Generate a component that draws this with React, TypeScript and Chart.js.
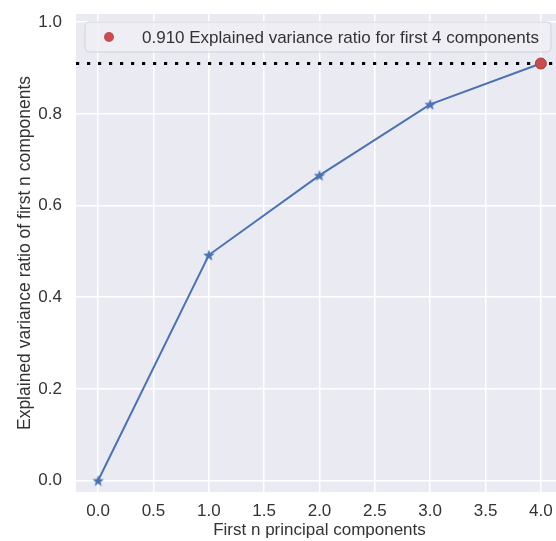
import React, { useEffect, useRef } from "react";
import { Chart, registerables } from "chart.js";

Chart.register(...registerables);

// ---- data ----
const COMPONENTS = [0, 1, 2, 3, 4];
const CUM_RATIO = [0.0, 0.492, 0.666, 0.821, 0.91];
const HIGHLIGHT_N = 4;
const HIGHLIGHT_VALUE = 0.91;
const LEGEND_LABEL = "0.910 Explained variance ratio for first 4 components";
const X_TICKS = [0.0, 0.5, 1.0, 1.5, 2.0, 2.5, 3.0, 3.5, 4.0];
const Y_TICKS = [0.0, 0.2, 0.4, 0.6, 0.8, 1.0];
const X_MIN = -0.2;
const X_MAX = 4.2;
const Y_MIN = -0.025;
const Y_MAX = 1.018;
const X_TITLE = "First n principal components";
const Y_TITLE = "Explained variance ratio of first n components";

// ---- style ----
const FONT = "'Liberation Sans', Arial, sans-serif";
const TEXT = "#333333";
const BG = "#EAEAF2";
const BLUE = "#4C72B0";
const RED = "#C44E52";

function makeStar(size: number, color: string) {
  const c = document.createElement("canvas");
  c.width = size;
  c.height = size;
  const ctx = c.getContext("2d")!;
  const cx = size / 2;
  const cy = size / 2;
  const R = size / 2;
  const r = R * 0.42;
  ctx.beginPath();
  for (let i = 0; i < 10; i++) {
    const ang = -Math.PI / 2 + (i * Math.PI) / 5;
    const rad = i % 2 === 0 ? R : r;
    const px = cx + rad * Math.cos(ang);
    const py = cy + rad * Math.sin(ang) + size * 0.05;
    if (i === 0) ctx.moveTo(px, py);
    else ctx.lineTo(px, py);
  }
  ctx.closePath();
  ctx.fillStyle = color;
  ctx.fill();
  return c;
}

const bgPlugin = {
  id: "bgPlugin",
  beforeDraw(chart: any) {
    const { ctx, chartArea } = chart;
    ctx.save();
    ctx.fillStyle = BG;
    ctx.fillRect(chartArea.left, chartArea.top, chartArea.right - chartArea.left, chartArea.bottom - chartArea.top);
    ctx.restore();
  },
};

const legendPlugin = {
  id: "insideLegend",
  afterDatasetsDraw(chart: any) {
    const { ctx, chartArea } = chart;
    const x = chartArea.left + 9;
    const y = chartArea.top + 8;
    const w = 466;
    const h = 30;
    ctx.save();
    ctx.beginPath();
    const rr = 4;
    ctx.moveTo(x + rr, y);
    ctx.lineTo(x + w - rr, y);
    ctx.quadraticCurveTo(x + w, y, x + w, y + rr);
    ctx.lineTo(x + w, y + h - rr);
    ctx.quadraticCurveTo(x + w, y + h, x + w - rr, y + h);
    ctx.lineTo(x + rr, y + h);
    ctx.quadraticCurveTo(x, y + h, x, y + h - rr);
    ctx.lineTo(x, y + rr);
    ctx.quadraticCurveTo(x, y, x + rr, y);
    ctx.closePath();
    ctx.fillStyle = "rgba(238,238,245,0.85)";
    ctx.fill();
    ctx.strokeStyle = "#D2D2D8";
    ctx.lineWidth = 1;
    ctx.stroke();
    ctx.beginPath();
    ctx.arc(x + 24, y + h / 2, 5, 0, Math.PI * 2);
    ctx.fillStyle = RED;
    ctx.fill();
    ctx.fillStyle = TEXT;
    ctx.font = `17px ${FONT}`;
    ctx.textBaseline = "middle";
    ctx.textAlign = "left";
    ctx.fillText(LEGEND_LABEL, x + 57, y + h / 2 + 1);
    ctx.restore();
  },
};

export default function App() {
  const ref = useRef<HTMLCanvasElement | null>(null);
  useEffect(() => {
    if (!ref.current) return;
    const star = makeStar(12, BLUE);
    const chart = new Chart(ref.current, {
      type: "scatter",
      data: {
        datasets: [
          {
            label: "cumulative",
            data: COMPONENTS.map((n, i) => ({ x: n, y: CUM_RATIO[i] })),
            showLine: true,
            borderColor: BLUE,
            backgroundColor: BLUE,
            borderWidth: 2,
            pointStyle: star as any,
            pointRadius: 6,
            order: 3,
          },
          {
            label: "threshold",
            data: [
              { x: X_MIN, y: HIGHLIGHT_VALUE },
              { x: X_MAX, y: HIGHLIGHT_VALUE },
            ],
            showLine: true,
            borderColor: "#000000",
            borderWidth: 3.2,
            borderDash: [3.2, 7.8],
            borderCapStyle: "butt",
            pointRadius: 0,
            order: 2,
          },
          {
            label: LEGEND_LABEL,
            data: [{ x: HIGHLIGHT_N, y: HIGHLIGHT_VALUE }],
            backgroundColor: RED,
            borderColor: "#B23A3F",
            borderWidth: 1,
            pointRadius: 5.5,
            order: 1,
          },
        ],
      },
      options: {
        animation: false,
        responsive: false,
        devicePixelRatio: 1,
        layout: { padding: { top: 14, right: 37, left: 0, bottom: 0 } },
        plugins: {
          legend: { display: false },
          tooltip: { enabled: false },
        },
        scales: {
          x: {
            type: "linear",
            min: X_MIN,
            max: X_MAX,
            afterFit(scale: any) {
              scale.height = 49;
              scale.paddingLeft = 0;
              scale.paddingRight = 0;
            },
            afterBuildTicks(scale: any) {
              scale.ticks = X_TICKS.map((v) => ({ value: v }));
            },
            border: { display: false },
            grid: { color: "#FFFFFF", lineWidth: 1.5, drawTicks: false },
            ticks: {
              padding: 9,
              color: TEXT,
              font: { family: FONT, size: 17 },
              callback: (v: any) => Number(v).toFixed(1),
              maxRotation: 0,
              autoSkip: false,
            },
            title: {
              display: true,
              text: X_TITLE,
              color: TEXT,
              font: { family: FONT, size: 17 },
              padding: { top: 0, bottom: 0 },
            },
          },
          y: {
            type: "linear",
            min: Y_MIN,
            max: Y_MAX,
            afterFit(scale: any) {
              scale.width = 76;
              scale.paddingTop = 0;
              scale.paddingBottom = 0;
            },
            afterBuildTicks(scale: any) {
              scale.ticks = Y_TICKS.map((v) => ({ value: v }));
            },
            border: { display: false },
            grid: { color: "#FFFFFF", lineWidth: 1.5, drawTicks: false },
            ticks: {
              padding: 14,
              color: TEXT,
              font: { family: FONT, size: 17 },
              callback: (v: any) => Number(v).toFixed(1),
              autoSkip: false,
            },
            title: {
              display: true,
              text: Y_TITLE,
              color: TEXT,
              font: { family: FONT, size: 17.5 },
              padding: { top: 15, bottom: 0 },
            },
          },
        },
      },
      plugins: [bgPlugin, legendPlugin],
    });
    return () => chart.destroy();
  }, []);

  return (
    <div
      style={{
        position: "fixed",
        left: 0,
        top: 0,
        width: 556,
        height: 541,
        overflow: "hidden",
        background: "#ffffff",
      }}
    >
      <canvas ref={ref} width={600} height={541} style={{ display: "block" }} />
    </div>
  );
}
